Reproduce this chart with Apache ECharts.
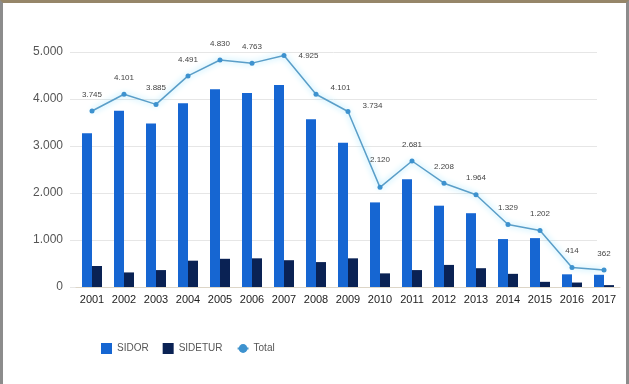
<!DOCTYPE html>
<html>
<head>
<meta charset="utf-8">
<script src="https://cdn.jsdelivr.net/npm/echarts@6/dist/echarts.min.js"></script>
<style>
  html, body { margin: 0; padding: 0; background: #fff; }
  #chart { position: absolute; left: 0; top: 0; width: 629px; height: 384px; }
  #frame { position: absolute; left: 0; top: 0; width: 623px; height: 381px;
           border-top: 3px solid #968669; border-left: 3px solid #8c8c8c; border-right: 3px solid #8c8c8c;
           pointer-events: none; }
</style>
</head>
<body>
<div id="chart"></div>
<div id="frame"></div>
<script>
const years = ['2001','2002','2003','2004','2005','2006','2007','2008','2009','2010','2011','2012','2013','2014','2015','2016','2017'];
const sidor = [3270, 3750, 3480, 3910, 4210, 4130, 4300, 3570, 3070, 1800, 2290, 1730, 1570, 1020, 1040, 270, 260];
const sidetur = [447, 310, 360, 560, 600, 610, 570, 530, 610, 290, 360, 470, 400, 280, 110, 95, 40];
const total = [3745, 4101, 3885, 4491, 4830, 4763, 4925, 4101, 3734, 2120, 2681, 2208, 1964, 1329, 1202, 414, 362];
const yTicks = [0, 1000, 2000, 3000, 4000, 5000];

function fmt(v) {
  if (v < 1000) return String(v);
  return Math.floor(v / 1000) + '.' + String(v % 1000).padStart(3, '0');
}

const rightLabels = [6, 7, 8];
const totalData = total.map((v, i) => {
  const d = { value: v };
  if (rightLabels.includes(i)) {
    d.label = { position: 'right', distance: 12, offset: [0, i === 6 ? 0 : -6] };
  } else if (i === 9) {
    d.label = { distance: 21 };
  }
  return d;
});

const font = 'Liberation Sans, Arial, sans-serif';
const chart = echarts.init(document.getElementById('chart'), null, { renderer: 'canvas' });
chart.setOption({
  animation: false,
  backgroundColor: '#ffffff',
  grid: [
    { left: 76, right: 9, top: 52, bottom: 97 },
    { left: 70, right: 32, top: 52, bottom: 97 }
  ],
  legend: {
    left: 96, top: 338,
    itemWidth: 11, itemHeight: 11, itemGap: 14,
    textStyle: { fontSize: 10, color: '#555', fontFamily: font },
    data: [
      { name: 'SIDOR', icon: 'rect' },
      { name: 'SIDETUR', icon: 'rect' },
      { name: 'Total' }
    ]
  },
  xAxis: [
    {
      type: 'category', gridIndex: 0,
      data: years,
      axisLine: { lineStyle: { color: '#ddd6c8', width: 1 } },
      axisTick: { show: false },
      axisLabel: { fontSize: 11, color: '#222', margin: 7, fontFamily: font }
    },
    { type: 'value', gridIndex: 1, show: false }
  ],
  yAxis: [
    {
      type: 'value', gridIndex: 0,
      min: yTicks[0], max: yTicks[yTicks.length - 1], interval: 1000,
      axisLine: { show: false }, axisTick: { show: false },
      splitLine: { show: false }, axisLabel: { show: false }
    },
    {
      type: 'value', gridIndex: 1,
      min: yTicks[0], max: yTicks[yTicks.length - 1], interval: 1000,
      axisLine: { show: false }, axisTick: { show: false },
      splitLine: { lineStyle: { color: '#e6e6e6', width: 1 } },
      axisLabel: { fontSize: 12, color: '#555', margin: 7, formatter: fmt, fontFamily: font }
    }
  ],
  series: [
    {
      name: 'SIDOR', type: 'bar', data: sidor,
      barWidth: 10, barGap: '0%',
      itemStyle: { color: '#1666d2' }
    },
    {
      name: 'SIDETUR', type: 'bar', data: sidetur,
      barWidth: 10,
      itemStyle: { color: '#0a2254' }
    },
    {
      name: 'Total', type: 'line', data: totalData,
      symbol: 'circle', symbolSize: 5,
      itemStyle: { color: '#3d92cf' },
      lineStyle: { color: '#5a9ec8', width: 1.5, shadowColor: 'rgba(130,220,255,1)', shadowBlur: 6 },
      label: {
        show: true, position: 'top', distance: 10,
        fontSize: 8, color: '#444', formatter: p => fmt(p.value),
        fontFamily: font
      },
      z: 5
    }
  ]
});
</script>
</body>
</html>
